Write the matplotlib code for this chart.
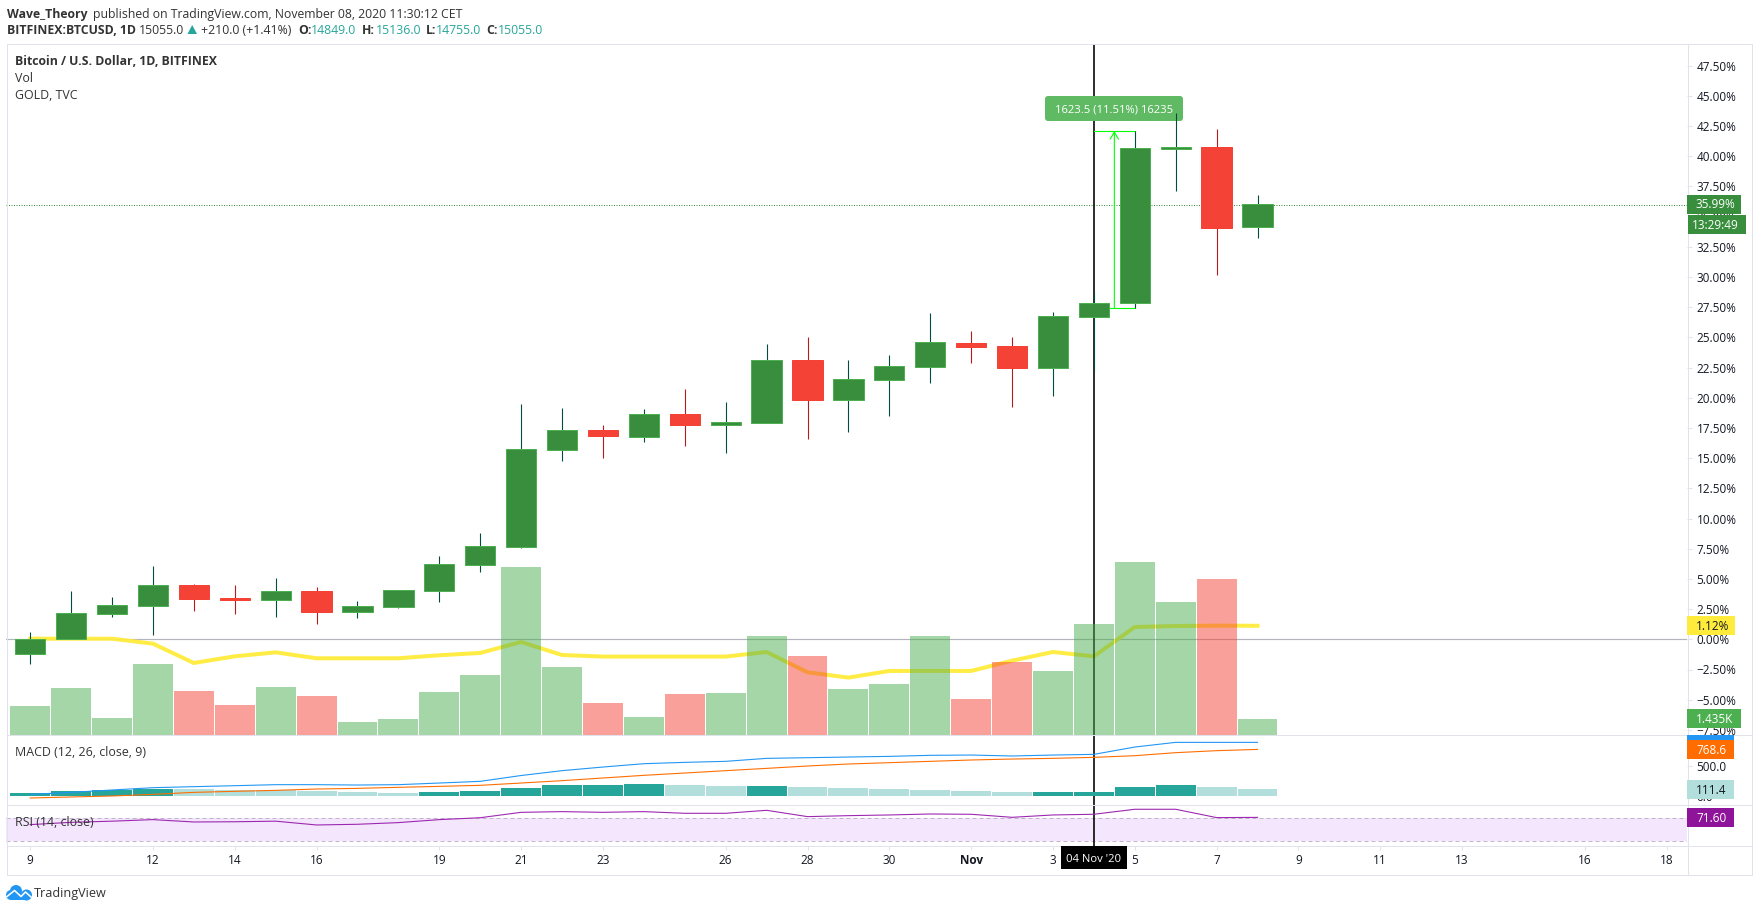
import matplotlib
matplotlib.use("Agg")
import matplotlib.pyplot as plt
from matplotlib.lines import Line2D
from matplotlib.patches import Rectangle, FancyBboxPatch, Polygon, Circle
from matplotlib.transforms import Affine2D

# ---------- data (percent change of BTCUSD) ----------
opens  = [-1.19, 0.00, 2.12, 2.79, 4.50, 3.42, 3.26, 4.00, 2.26, 2.68, 4.03, 6.18, 7.67, 15.69, 17.32, 16.77,
          18.65, 17.74, 17.93, 23.12, 19.84, 21.49, 22.57, 24.53, 24.28, 22.46, 26.71, 27.86, 40.62, 40.75, 34.16]
highs  = [0.61, 4.00, 3.50, 6.07, 4.58, 4.50, 5.08, 4.33, 3.17, 4.08, 6.90, 8.80, 19.48, 19.15, 17.74, 19.06,
          20.72, 19.64, 24.44, 25.02, 23.12, 23.53, 27.01, 25.52, 25.02, 27.09, 28.78, 42.07, 43.54, 42.24, 36.77]
lows   = [-2.01, 0.00, 1.88, 0.39, 2.37, 2.12, 1.88, 1.30, 1.79, 2.59, 3.12, 5.60, 7.59, 14.79, 15.01, 16.33,
          16.00, 15.42, 17.93, 16.58, 17.16, 18.49, 21.22, 22.87, 19.23, 20.14, 22.24, 27.39, 37.11, 30.16, 33.22]
closes = [0.00, 2.15, 2.84, 4.50, 3.34, 3.26, 4.00, 2.26, 2.76, 4.08, 6.24, 7.73, 15.75, 17.32, 16.83, 18.65,
          17.74, 17.99, 23.12, 19.81, 21.55, 22.62, 24.61, 24.20, 22.46, 26.76, 27.84, 40.64, 40.75, 34.05, 36.03]
volume_k = [2.60, 4.13, 1.52, 6.28, 3.86, 2.69, 4.22, 3.41, 1.08, 1.35, 3.77, 5.38, 14.98, 6.01, 2.87, 1.61,
            3.59, 3.68, 8.79, 7.00, 4.04, 4.57, 8.79, 3.14, 6.46, 5.74, 9.87, 15.43, 11.84, 13.99, 1.435]
gold = [0.05, 0.05, 0.05, -0.36, -1.96, -1.41, -1.08, -1.57, -1.57, -1.57, -1.32, -1.13, -0.22, -1.30, -1.43, -1.43,
        -1.43, -1.43, -1.05, -2.73, -3.17, -2.62, -2.62, -2.62, -1.77, -1.05, -1.41, 1.02, 1.10, 1.13, 1.12]
macd = [27, 60, 99, 137, 154, 170, 187, 187, 181, 187, 214, 242, 338, 418, 478, 533,
        555, 572, 621, 632, 643, 654, 671, 676, 660, 676, 687, 808, 885, 885, 885]
signal = [-33, -16, 0, 27, 60, 77, 93, 115, 126, 143, 159, 176, 214, 253, 297, 341,
          379, 418, 456, 495, 528, 550, 572, 594, 610, 621, 638, 665, 715, 748, 768.6]
hist = [50, 83, 99, 116, 116, 99, 99, 83, 66, 50, 66, 83, 132, 182, 182, 198,
        182, 165, 165, 149, 132, 116, 99, 83, 66, 66, 66, 149, 182, 149, 111.4]
hist_dark = [1, 1, 1, 1, 0, 0, 0, 0, 0, 0, 1, 1, 1, 1, 1, 1,
             0, 0, 1, 0, 0, 0, 0, 0, 0, 1, 1, 1, 1, 0, 0]
rsi = [59, 63, 65, 67.7, 63.6, 64, 65, 58.4, 59.6, 62.5, 67.7, 71, 80.4, 81.6, 80.4, 81.6,
       78.7, 78.7, 83.9, 72.9, 74.6, 75.8, 77.5, 77, 71.7, 75.8, 77, 85.7, 85.7, 71.2, 71.6]
price_ticks = [47.5, 45, 42.5, 40, 37.5, 35, 32.5, 30, 27.5, 25, 22.5, 20, 17.5, 15, 12.5, 10, 7.5, 5, 2.5, 0,
               -2.5, -5, -7.5]
date_ticks = [0, 3, 5, 7, 10, 12, 14, 17, 19, 21, 23, 25, 27, 29, 31, 33, 35, 38, 40]
date_labels = ['9', '12', '14', '16', '19', '21', '23', '26', '28', '30', 'Nov', '3', '5', '7', '9', '11', '13', '16', '18']
last_pct = 35.99
cross_day = 26
measure_low, measure_high = 27.42, 42.07

# ---------- layout ----------
W, H = 1758, 911
FONT = 'Open Sans'
plt.rcParams['font.family'] = [FONT, 'DejaVu Sans']
INK = '#131722'
LINE = '#E0E3EB'
PX = 100 / 72
fs = 11.8 / PX
fs_head = 12.2 / PX
fs_leg = 12.4 / PX
fs_small = 11.3 / PX
px = Affine2D().scale(1, -1).translate(0, H)
xs = list(range(len(closes)))
XL, XR, TOP, MB, MACB, RSIB, BOT, RIGHT = 6.5, 1687.5, 43.5, 734.5, 804.5, 845.5, 874.5, 1751.5

fig = plt.figure(figsize=(W / 100, H / 100), dpi=100, facecolor='white')

def pane(t, b, z=1):
    a = fig.add_axes([XL / W, 1 - b / H, (XR - XL) / W, (b - t) / H], zorder=z)
    a.patch.set_alpha(0)
    a.set_xlim(-0.579, 40.51)
    for s in a.spines.values():
        s.set_visible(False)
    a.set_xticks([])
    a.set_yticks([])
    return a

def fline(xa, ya, xb, yb, c=LINE, lw=1.0, z=20):
    fig.add_artist(Line2D([xa, xb], [ya, yb], color=c, lw=lw / PX, transform=px, zorder=z))

def frect(x0, y0, x1, y1, c, z=30):
    fig.add_artist(Rectangle((x0, y0), x1 - x0, y1 - y0, fc=c, ec='none', transform=px, zorder=z))

def ftext(x, y, s, c=INK, w='normal', size=None, ha='left', z=31):
    fig.text(x / W, 1 - y / H, s, color=c, fontweight=w, fontsize=size or fs, ha=ha, va='baseline', zorder=z)

# ---------- main pane: three stacked layers ----------
ylim = ((639.3 - 734.5) / 12.08, (639.3 - 43.5) / 12.08)
under = pane(TOP, MB, 1)
under.set_ylim(*ylim)
under.yaxis.tick_right()
under.set_yticks(price_ticks)
under.set_yticklabels([f"{v:.2f}%".replace('-', '\u2212') for v in price_ticks], fontsize=fs, color=INK)
under.tick_params(axis='y', length=5 / PX, width=1 / PX, color=LINE, pad=4 / PX)
under.axhline(0, color='#B2B5BE', lw=1.2 / PX, zorder=1)
under.axhline(last_pct, color='#388E3C', lw=1 / PX, ls=(0, (1, 1.5)), zorder=1)
under.plot(xs, gold, color='#FFEB3B', lw=4 / PX, zorder=2, solid_joinstyle='miter', alpha=0.95)
under.axvline(cross_day, color='black', lw=1.6 / PX, zorder=3)

# measurement tool
mc = '#00FF00'
under.plot([cross_day, cross_day + 1], [measure_high, measure_high], color=mc, lw=1.1 / PX, zorder=4)
under.plot([cross_day, cross_day + 1], [measure_low, measure_low], color=mc, lw=1.1 / PX, zorder=4)
under.annotate('', xy=(cross_day + 0.5, measure_high), xytext=(cross_day + 0.5, measure_low), zorder=4,
               arrowprops=dict(arrowstyle='->,head_length=0.5,head_width=0.3', color=mc, lw=1.1 / PX,
                               shrinkA=0, shrinkB=0))
under.add_patch(FancyBboxPatch((1048, 99), 132, 19, boxstyle='round,pad=3,rounding_size=3', fc='#60BA64', ec='none',
                               transform=px, zorder=5, clip_on=False))
under.text(1114, 112.5, '1623.5 (11.51%) 16235', color='white', fontsize=fs_small, ha='center', va='baseline',
           transform=px, zorder=6)

vol_ax = pane(TOP, MB, 2)
vol_ax.set_ylim(0, (MB - TOP) * 1.435 / 16)
vol_ax.bar(xs, volume_k, width=0.975,
           color=['#4CAF50' if c >= o else '#F44336' for o, c in zip(opens, closes)], alpha=0.5)

price = pane(TOP, MB, 3)
price.set_ylim(*ylim)
for i, (o, h, l, c) in enumerate(zip(opens, highs, lows, closes)):
    up = c >= o
    price.vlines(i, l, h, color='#004D40' if up else '#B71C1C', lw=1.1 / PX, zorder=1)
    price.bar(i, abs(c - o), bottom=min(o, c), width=0.74, color='#388E3C' if up else '#F44336',
              edgecolor='#4CAF50' if up else '#F44336', linewidth=1 / PX, zorder=2)

# ---------- MACD pane ----------
ma = pane(MB, MACB, 2)
ma.set_ylim((796 - 804.5) * 16.5, (796 - 734.5) * 16.5)
ma.yaxis.tick_right()
ma.set_yticks([0, 500])
ma.set_yticklabels(['0.0', '500.0'], fontsize=fs, color=INK)
ma.tick_params(axis='y', length=5 / PX, width=1 / PX, color=LINE, pad=4 / PX)
ma.axvline(cross_day, color='black', lw=1.6 / PX, zorder=1)
ma.bar(xs, hist, width=0.975, color=['#26A69A' if d else '#B2DFDB' for d in hist_dark], zorder=2)
ma.plot(xs, macd, color='#2196F3', lw=1.1 / PX, zorder=3)
ma.plot(xs, signal, color='#FF6D00', lw=1.1 / PX, zorder=3)

# ---------- RSI pane ----------
ra = pane(MACB, RSIB, 2)
ra.set_ylim(30 - (RSIB - 841.3) / 0.575, 70 + (818.3 - MACB) / 0.575)
ra.axhspan(30, 70, fc='#F4E6FC', ec='none', zorder=1)
for lvl in (30, 70):
    ra.axhline(lvl, color='#C2B4CA', lw=1 / PX, ls=(0, (4, 3)), zorder=2)
ra.axvline(cross_day, color='black', lw=1.6 / PX, zorder=3)
ra.plot(xs, rsi, color='#9C27B0', lw=1.1 / PX, zorder=4)

# ---------- date axis ----------
da = pane(RSIB, RSIB + 4, 2)
da.set_ylim(0, 1)
da.set_xticks(date_ticks)
da.set_xticklabels(date_labels, fontsize=fs, color=INK)
da.tick_params(axis='x', top=True, bottom=False, labeltop=False, labelbottom=True, direction='in',
               length=4 / PX, width=1 / PX, color=LINE, pad=5 / PX)
for lab, txt in zip(da.get_xticklabels(), date_labels):
    if txt == 'Nov':
        lab.set_fontweight('bold')
da.axvline(cross_day, color='black', lw=1.6 / PX, zorder=3)

# ---------- frame ----------
for (a, b, c, d) in [(XL, TOP, RIGHT, TOP), (XL, TOP, XL, BOT), (XL, BOT, RIGHT, BOT), (RIGHT, TOP, RIGHT, BOT),
                     (XR, TOP, XR, BOT), (XL, MB, RIGHT, MB), (XL, MACB, RIGHT, MACB), (XL, RSIB, RIGHT, RSIB)]:
    fline(a, b, c, d)

# ---------- value labels on the axis ----------
frect(1687, 195, 1741, 213.5, '#388E3C')
ftext(1696, 208.5, '35.99%', 'white')
frect(1687.5, 215, 1746, 234, '#388E3C')
ftext(1692, 229, '13:29:49', 'white')
frect(1687, 616, 1735, 635, '#FFEB3B')
ftext(1696, 630, '1.12%', INK)
frect(1687, 709, 1741, 728, '#4CAF50')
ftext(1696, 723, '1.435K', 'white')
frect(1687, 735, 1734, 745, '#2196F3')
frect(1687, 740, 1734, 759, '#FF6D00')
ftext(1696, 754, '768.6', 'white')
frect(1687, 780, 1734, 799, '#B2DFDB')
ftext(1696, 794, '111.4', INK)
frect(1687, 808, 1734, 827, '#8E1599')
ftext(1696, 822, '71.60', 'white')
frect(1061, 846, 1127, 869, 'black')
ftext(1094, 862, "04 Nov '20", 'white', ha='center', size=fs_small)

# ---------- header and legend text ----------
ftext(7, 18, 'Wave_Theory', '#333333', 'bold', fs_head)
ftext(93, 18, 'published on TradingView.com, November 08, 2020 11:30:12 CET', '#333333', size=fs_head)
ftext(7, 34.5, 'BITFINEX:BTCUSD, 1D', '#333333', 'bold', fs_head)
ftext(138.5, 34.5, '15055.0', '#333333', size=fs_head)
fig.add_artist(Polygon([(187.5, 34), (197, 34), (192.2, 25)], closed=True, fc='#26A69A', ec='none', transform=px))
ftext(201, 34.5, '+210.0 (+1.41%)', '#333333', size=fs_head)
for x, lab, val_x, val in [(298, 'O:', 311, '14849.0'), (361.5, 'H:', 375.4, '15136.0'),
                           (425.5, 'L:', 436, '14755.0'), (486, 'C:', 498, '15055.0')]:
    ftext(x, 34.5, lab, '#333333', 'bold', fs_head)
    ftext(val_x, 34.5, val, '#26A69A', size=fs_head)
ftext(15.3, 65, 'Bitcoin / U.S. Dollar, 1D, BITFINEX', '#333333', 'bold', fs_head)
ftext(15.3, 82, 'Vol', '#333333', size=fs_leg)
ftext(15.3, 99, 'GOLD, TVC', '#333333', size=fs_leg)
ftext(15.3, 756, 'MACD (12, 26, close, 9)', '#333333', size=fs_leg)
ftext(15.3, 826, 'RSI (14, close)', '#333333', size=fs_leg)

# ---------- logo ----------
for cx, cy, r in [(11, 895, 5), (16, 891, 6), (26.5, 895, 5.5)]:
    fig.add_artist(Circle((cx, cy), r, fc='#2196F3', ec='none', transform=px))
frect(11, 893, 27, 900, '#2196F3', z=2)
fig.add_artist(Line2D([7, 14.5, 21, 25.5, 31], [896.5, 890.5, 896.5, 892, 897], color='white', lw=1.6 / PX,
                      transform=px, zorder=3))
ftext(34, 897.5, 'TradingView', '#333333', size=12.6 / PX)

fig.savefig('out.png', dpi=100, facecolor='white')
